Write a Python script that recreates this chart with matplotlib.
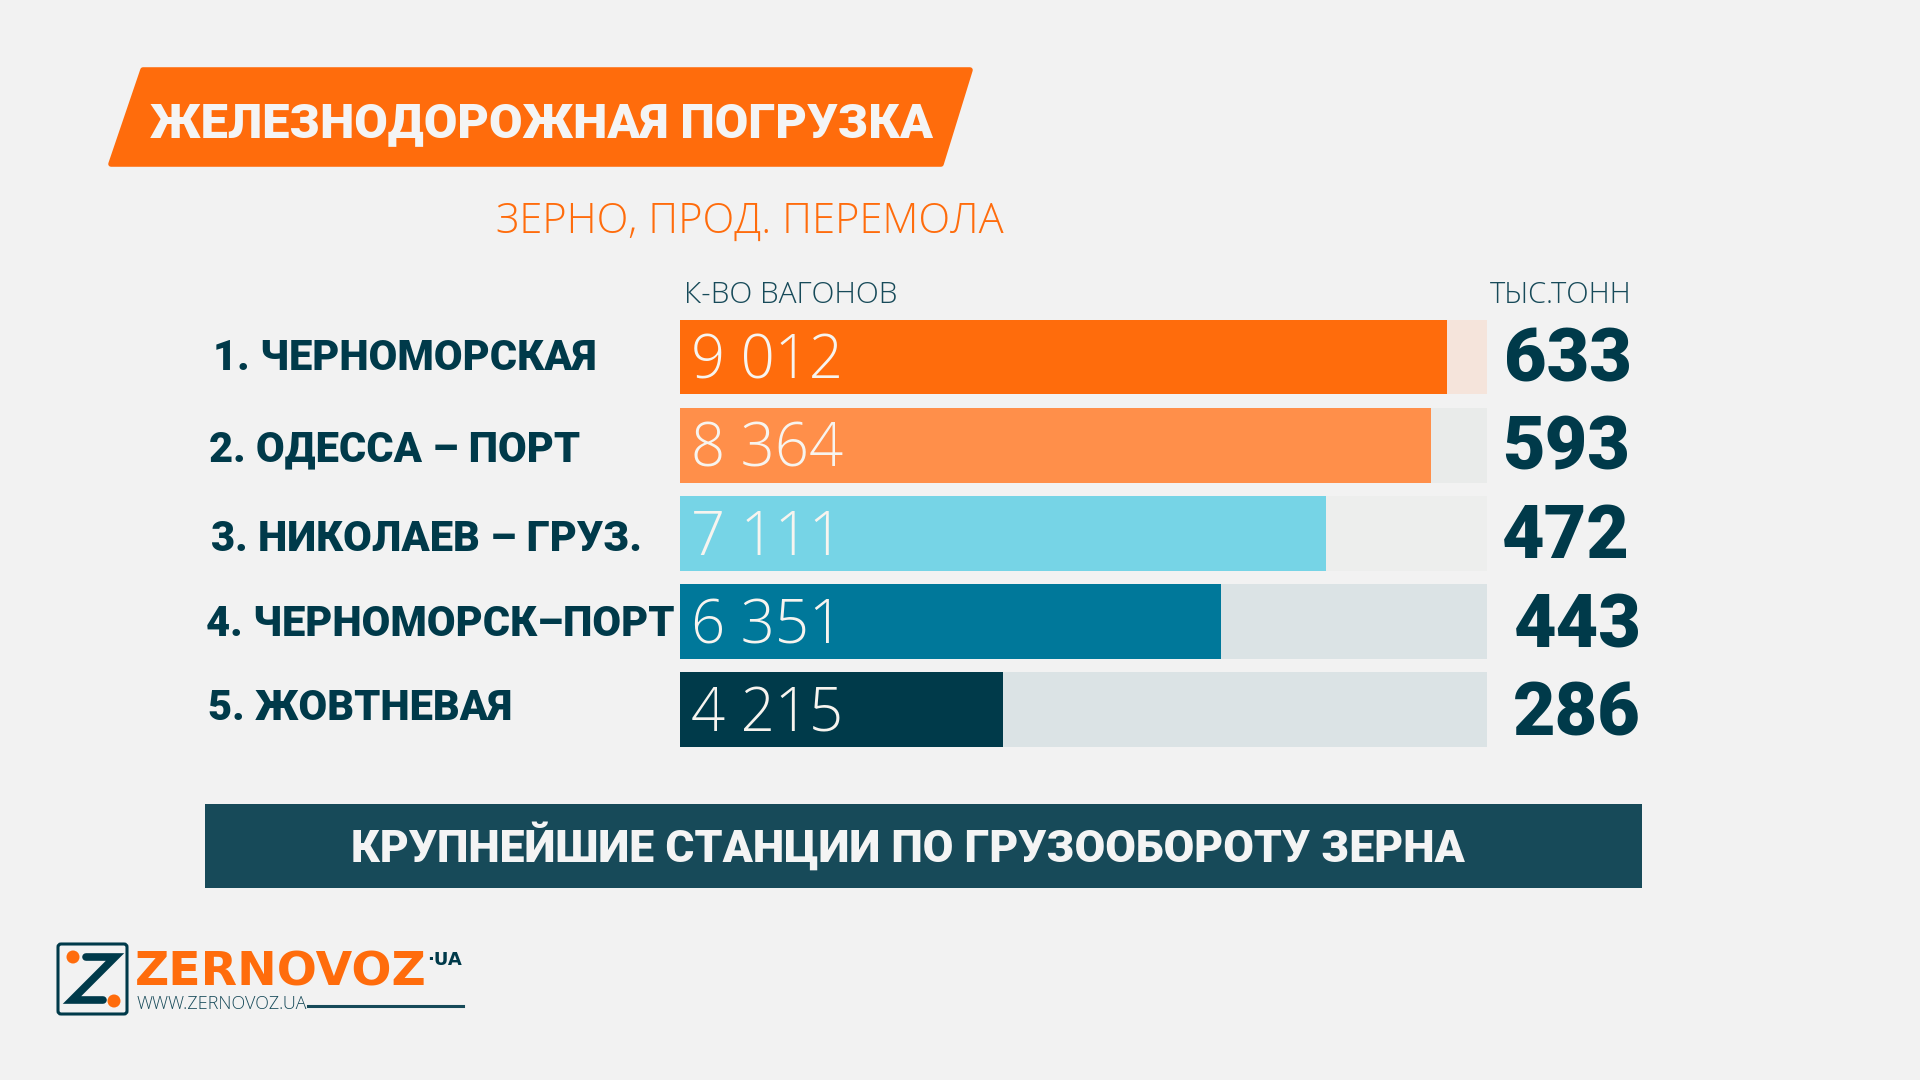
import matplotlib
matplotlib.use('Agg')
import matplotlib.pyplot as plt
from matplotlib.patches import Polygon, FancyBboxPatch, Circle

# data
stations = ['1. ЧЕРНОМОРСКАЯ', '2. ОДЕССА – ПОРТ', '3. НИКОЛАЕВ – ГРУЗ.', '4. ЧЕРНОМОРСК–ПОРТ', '5. ЖОВТНЕВАЯ']
wagons = ['9 012', '8 364', '7 111', '6 351', '4 215']
tonnes = ['633', '593', '472', '443', '286']
fill_percent = [95, 93, 80, 67, 40]

bar_colors = ['#FF6C0C', '#FF8F4A', '#76D4E6', '#00789A', '#003A4A']
track_colors = ['#F5E4DB', '#E9EBEA', '#EDEEED', '#DBE3E5', '#DBE3E5']

BG = '#F2F2F2'
ORANGE = '#FF6C0C'
DARK = '#003A4A'
BANNER = '#174A59'
HEAVY = 'Roboto'
LIGHT = 'Open Sans'

plt.rcParams['font.family'] = ['Roboto', 'DejaVu Sans']

fig = plt.figure(figsize=(19.2, 10.8), dpi=100, facecolor=BG)

# overlay in pixel coordinates for the poster furniture
pg = fig.add_axes([0, 0, 1, 1])
pg.set_xlim(0, 1920)
pg.set_ylim(1080, 0)
pg.axis('off')

# bars get their own axes, 0-100 across the track
ax = fig.add_axes([680 / 1920, 1 - 753.8 / 1080, 807 / 1920, 440.8 / 1080])
ax.set_xlim(0, 100)
ax.set_ylim(4.5, -0.5)
ax.axis('off')
rows = range(len(stations))
ax.barh(rows, [100] * len(stations), height=0.847, color=track_colors)
ax.barh(rows, fill_percent, height=0.847, color=bar_colors)
for i in rows:
    ax.annotate(wagons[i], (0, i), xytext=(8, -15.5), textcoords='offset points', color='#F7F4EF',
                fontsize=43, family=LIGHT, weight='light', va='baseline', ha='left')

# title plate
pg.add_patch(Polygon([(111, 164), (143, 70), (970, 70), (941, 164)], closed=True,
                     fc=ORANGE, ec=ORANGE, lw=4, joinstyle='round'))
pg.text(150, 137, 'ЖЕЛЕЗНОДОРОЖНАЯ ПОГРУЗКА', color='#F4F4F4', fontsize=35, weight='black',
        family=HEAVY, va='baseline', ha='left')
pg.text(496, 233, 'ЗЕРНО, ПРОД. ПЕРЕМОЛА', color=ORANGE, fontsize=30, family=LIGHT, weight='light',
        va='baseline', ha='left')

pg.text(684, 303, 'К-ВО ВАГОНОВ', color=BANNER, fontsize=21.5, family=LIGHT, weight='light', va='baseline')
pg.text(1632, 303, 'ТЫС.ТОНН', color=BANNER, fontsize=21, family=LIGHT, weight='light', va='baseline', ha='right')

label_x = [213, 209, 211, 206, 208]
label_y = [370, 461, 551, 636, 720]
for name, x, y in zip(stations, label_x, label_y):
    pg.text(x, y, name, color=DARK, fontsize=30, weight='black', family=HEAVY, va='baseline', ha='left')

value_x = [1632, 1630, 1630, 1642, 1641]
value_y = [382, 469, 558, 648, 736]
for val, x, y in zip(tonnes, value_x, value_y):
    pg.text(x, y, val, color=DARK, fontsize=53, weight='black', family=HEAVY, va='baseline', ha='right')

# bottom banner
pg.add_patch(plt.Rectangle((205, 804), 1437, 84, fc=BANNER, ec='none'))
pg.text(908, 862, 'КРУПНЕЙШИЕ СТАНЦИИ ПО ГРУЗООБОРОТУ ЗЕРНА', color='#F4F4F4', fontsize=32, weight='black',
        family=HEAVY, va='baseline', ha='center')

# logo
pg.add_patch(FancyBboxPatch((58, 944), 69, 70, boxstyle='round,pad=0,rounding_size=3',
                            fc='none', ec=DARK, lw=2.2))
pg.plot([86, 115, 72, 103], [957, 957, 1000, 1000], color=DARK, lw=5.5, solid_capstyle='round',
        solid_joinstyle='miter')
pg.add_patch(Circle((73, 957), 6.5, fc=ORANGE, ec='none'))
pg.add_patch(Circle((114, 1001), 6.5, fc=ORANGE, ec='none'))
pg.text(135, 985, 'ZERNOVOZ', color=ORANGE, fontsize=34, family='DejaVu Sans', weight='bold', va='baseline', ha='left')
pg.text(427, 965, '·UA', color=DARK, fontsize=13, family='DejaVu Sans', weight='bold', va='baseline', ha='left')
pg.text(137, 1009, 'WWW.ZERNOVOZ.UA', color=BANNER, fontsize=13, family=LIGHT, weight='light', va='baseline', ha='left')
pg.plot([308, 463], [1006, 1006], color=BANNER, lw=2.2)

fig.savefig('out.png', dpi=100, facecolor=BG)
